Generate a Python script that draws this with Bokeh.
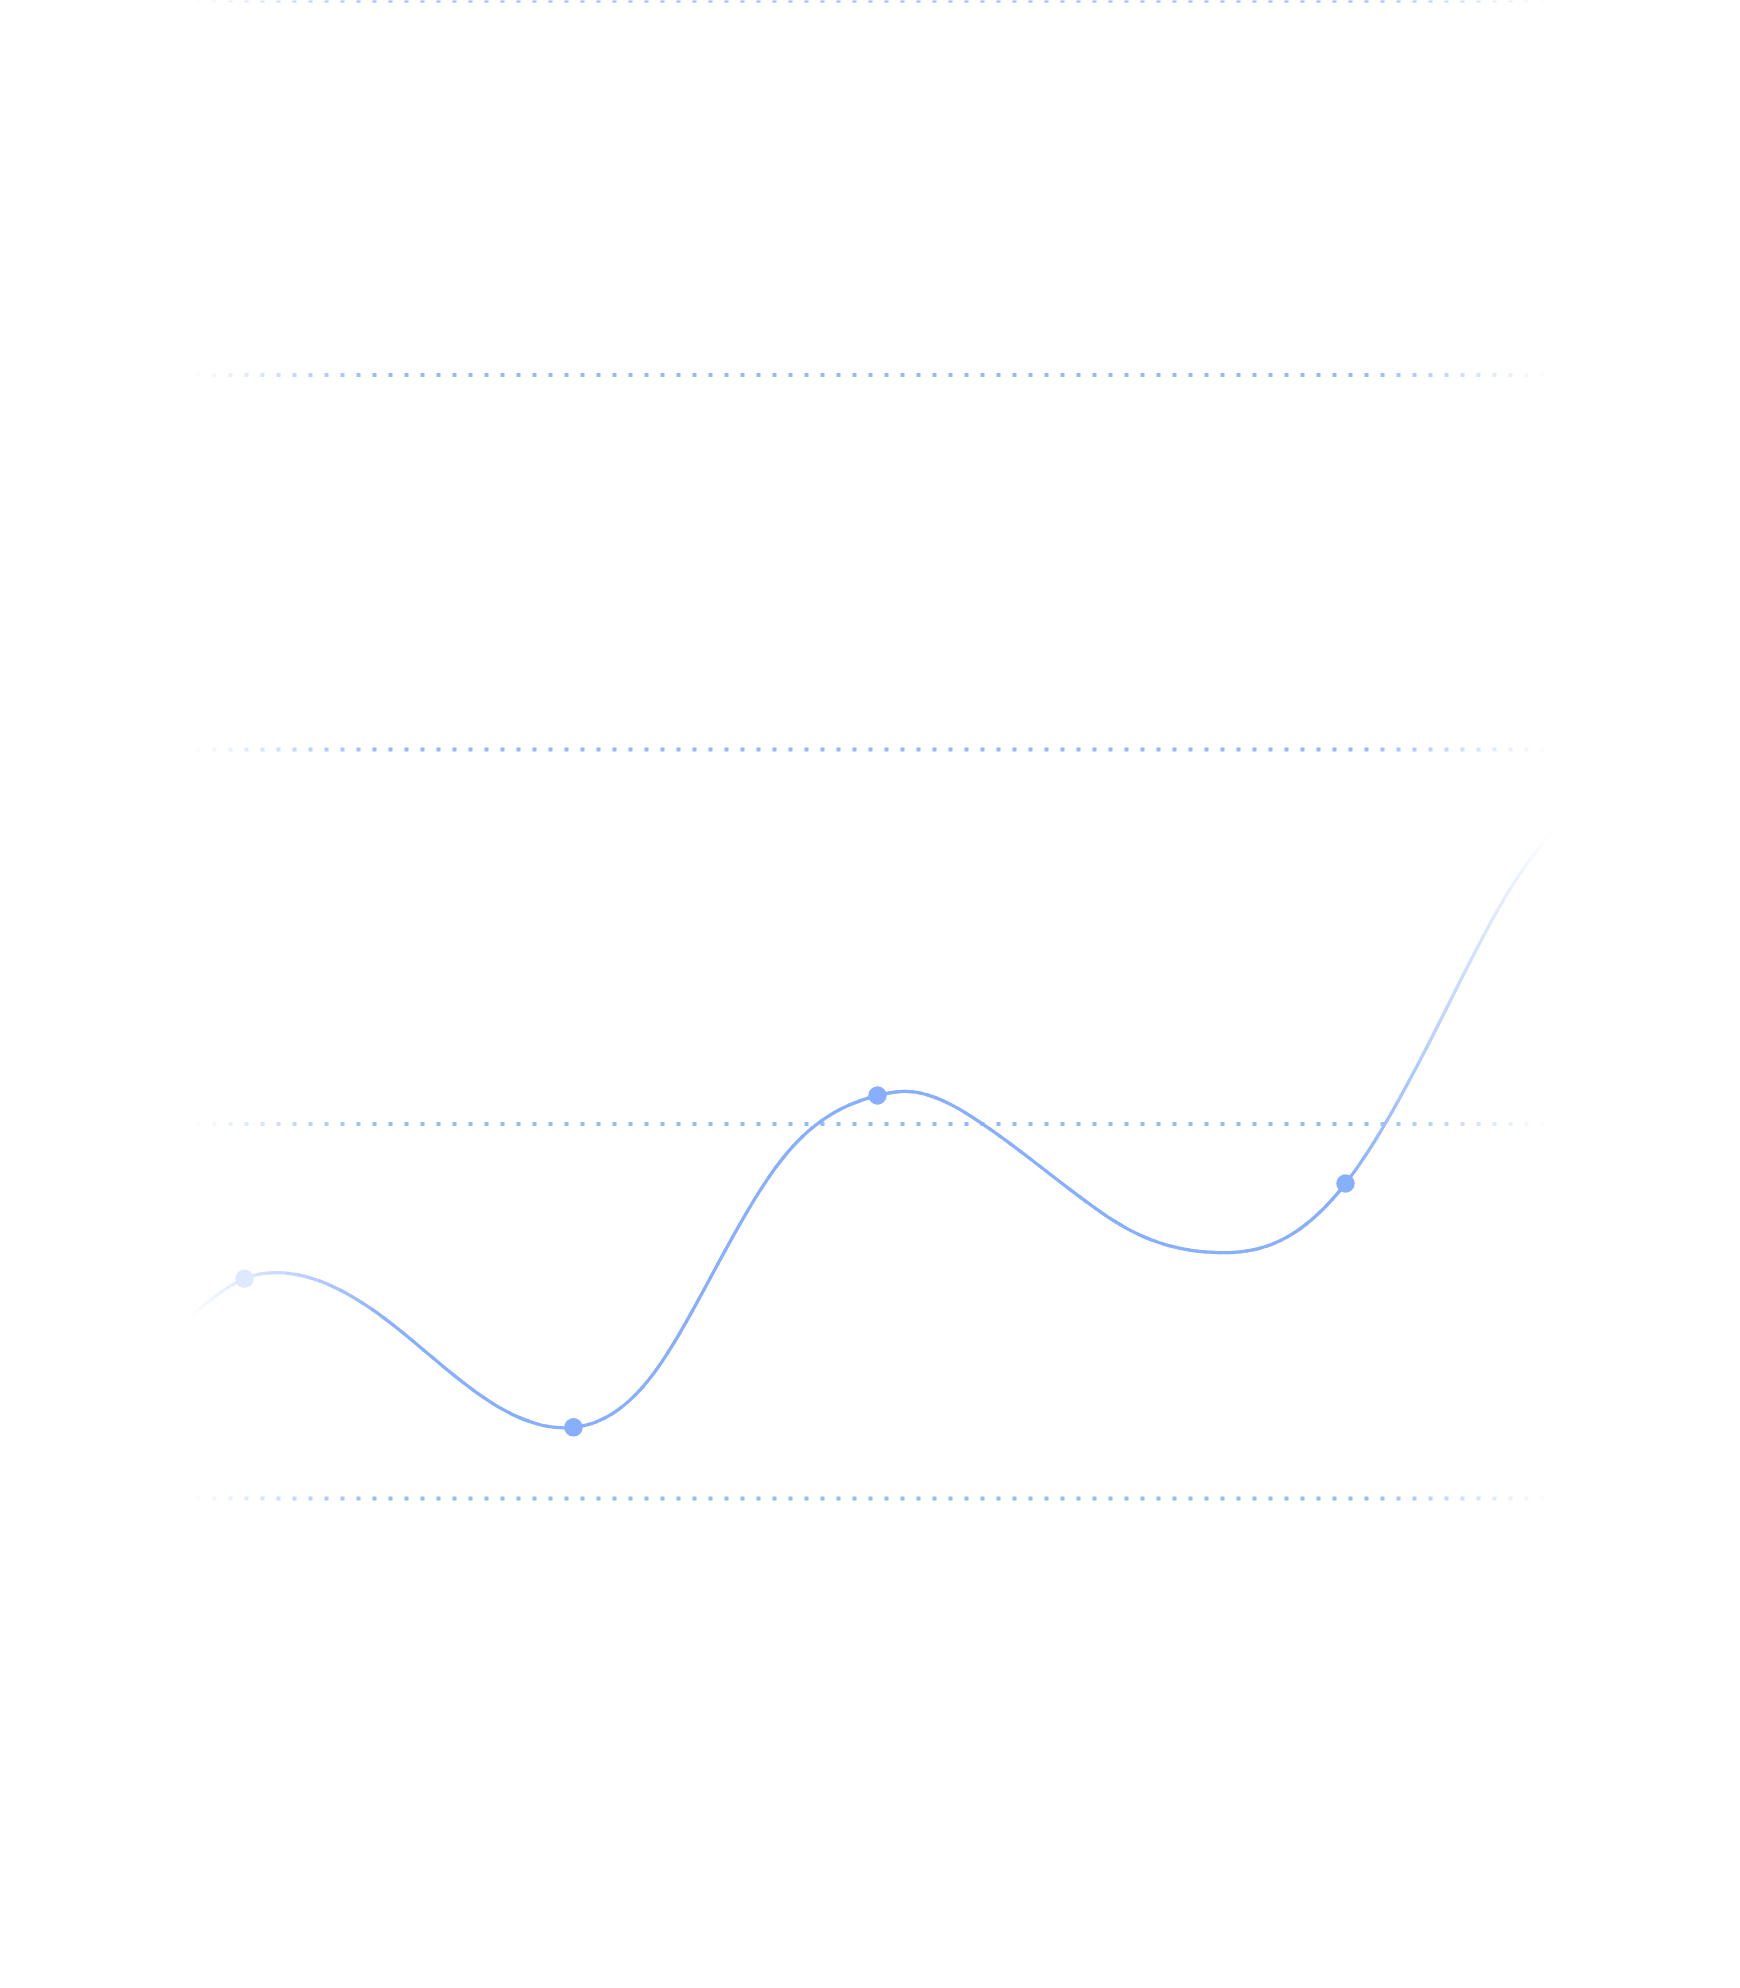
import numpy as np
from bokeh.plotting import figure
from bokeh.models import Range1d, ColumnDataSource
from bokeh.embed import file_html
from bokeh.resources import INLINE

# ---- data ----
curve_x = [18.8, 24.4, 27.7, 38.3, 48.3, 57.3, 65.0, 71.0, 78.3, 87.7, 90.5,
           98.0, 108.0, 113.0, 121.3, 128.0, 134.5, 145.0, 151.7, 155.0]
curve_y = [48.1, 58.7, 60.3, 48.3, 27.0, 19.0, 32.3, 59.0, 91.1, 107.6, 108.7,
           100.4, 80.4, 71.6, 65.7, 68.9, 84.1, 133.0, 165.8, 177.6]
marker_idx = [1, 5, 9, 16]
grid_values = [0, 100, 200, 300, 400]

# ---- styling ----
BASE = (135, 174, 255)
GRID_X0, GRID_X1, DOT_STEP = 19.6, 154.4, 1.6
LINE_STOPS = ([18.8, 39.2, 134.6, 155.0], [0.0, 1.0, 1.0, 0.0])
GRID_STOPS = ([18.8, 37.5, 136.5, 155.0], [0.0, 1.0, 1.0, 0.0])


def mix(a):
    r, g, b = (int(round(255 * (1 - a) + c * a)) for c in BASE)
    return "#%02x%02x%02x" % (r, g, b)


p = figure(width=1732, height=1980, x_range=Range1d(0.0, 173.2),
           y_range=Range1d(-128.7, 400.0), output_backend="svg",
           toolbar_location=None, x_axis_location=None, y_axis_location=None,
           min_border=0, background_fill_color="white", border_fill_color="white")
p.grid.visible = False
p.outline_line_color = None

# ---- dotted, fading grid lines ----
gx0, gx1, gy, ga = [], [], [], []
starts = np.arange(GRID_X0, GRID_X1 + 1e-6, DOT_STEP)
for v in grid_values:
    for s in starts:
        gx0.append(s)
        gx1.append(s + DOT_STEP)
        gy.append(v)
        ga.append(float(np.interp(s + 0.2, *GRID_STOPS)) * 0.9)
p.segment(x0="x0", y0="y", x1="x1", y1="y",
          source=ColumnDataSource(dict(x0=gx0, x1=gx1, y=gy, a=ga)),
          line_color="#8cb2ff", line_alpha="a", line_width=4, line_dash="4 12")

# ---- smooth curve: natural cubic spline through the points, as beziers ----
X = np.array(curve_x)
Y = np.array(curve_y)
n = len(X)
h = np.diff(X)
A = np.zeros((n, n))
r = np.zeros(n)
A[0, 0] = A[-1, -1] = 1.0
for i in range(1, n - 1):
    A[i, i - 1] = h[i - 1]
    A[i, i] = 2 * (h[i - 1] + h[i])
    A[i, i + 1] = h[i]
    r[i] = 6 * ((Y[i + 1] - Y[i]) / h[i] - (Y[i] - Y[i - 1]) / h[i - 1])
M = np.linalg.solve(A, r)
s = np.zeros(n)
s[:-1] = (Y[1:] - Y[:-1]) / h - h * (2 * M[:-1] + M[1:]) / 6
s[-1] = (Y[-1] - Y[-2]) / h[-1] + h[-1] * (M[-2] + 2 * M[-1]) / 6


def lerp(a, b, t):
    return a + (b - a) * t


def blossom(P, a, b, c):
    Q = [lerp(P[i], P[i + 1], a) for i in range(3)]
    R = [lerp(Q[i], Q[i + 1], b) for i in range(2)]
    return lerp(R[0], R[1], c)


seg = dict(x0=[], y0=[], x1=[], y1=[], cx0=[], cy0=[], cx1=[], cy1=[], col=[])
SUB = 10
for i in range(n - 1):
    hh = h[i]
    P = [np.array([X[i], Y[i]]),
         np.array([X[i] + hh / 3, Y[i] + s[i] * hh / 3]),
         np.array([X[i + 1] - hh / 3, Y[i + 1] - s[i + 1] * hh / 3]),
         np.array([X[i + 1], Y[i + 1]])]
    for k in range(SUB):
        t0, t1 = k / SUB, (k + 1) / SUB
        a0 = blossom(P, t0, t0, t0)
        c0 = blossom(P, t0, t0, t1)
        c1 = blossom(P, t0, t1, t1)
        a1 = blossom(P, t1, t1, t1)
        seg["x0"].append(a0[0]); seg["y0"].append(a0[1])
        seg["cx0"].append(c0[0]); seg["cy0"].append(c0[1])
        seg["cx1"].append(c1[0]); seg["cy1"].append(c1[1])
        seg["x1"].append(a1[0]); seg["y1"].append(a1[1])
        xm = 0.5 * (a0[0] + a1[0])
        seg["col"].append(mix(float(np.interp(xm, *LINE_STOPS))))

p.bezier(x0="x0", y0="y0", x1="x1", y1="y1", cx0="cx0", cy0="cy0",
         cx1="cx1", cy1="cy1", source=ColumnDataSource(seg),
         line_color="col", line_width=3.3, line_cap="round")

# ---- markers ----
mx = [curve_x[i] for i in marker_idx]
my = [curve_y[i] for i in marker_idx]
mc = [mix(float(np.interp(x, *LINE_STOPS))) for x in mx]
p.scatter(x="x", y="y", source=ColumnDataSource(dict(x=mx, y=my, c=mc)),
          size=18.5, fill_color="c", line_color=None)

open("out.html", "w").write(file_html(p, INLINE))
